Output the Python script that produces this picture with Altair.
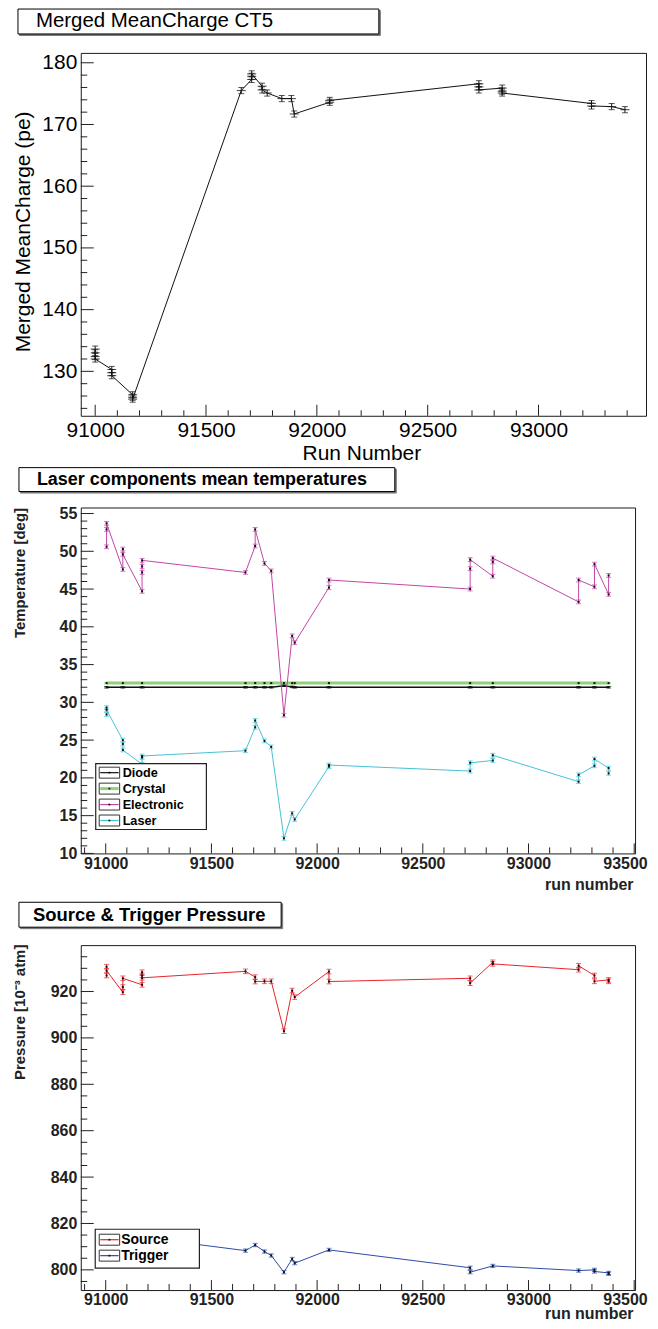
import altair as alt
import pandas as pd

FONT = "Liberation Sans"

# ---------------- data ----------------
# Panel 1 : Merged MeanCharge CT5
charge_run = [91000, 91000, 91000, 91000, 91075, 91075, 91075, 91169, 91169, 91169,
              91659, 91706, 91706, 91706, 91753, 91753, 91776, 91842, 91885, 91898,
              92058, 92058, 92731, 92731, 92731, 92836, 92836, 92836, 93239, 93239, 93330, 93390]
charge_val = [133.6, 133.0, 132.4, 132.0, 130.3, 129.8, 129.3, 126.2, 125.8, 125.5,
              175.5, 177.3, 177.8, 178.2, 176.2, 175.6, 175.1, 174.2, 174.2, 171.7,
              173.6, 173.9, 176.6, 176.1, 175.6, 175.9, 175.4, 175.1, 173.4, 173.0, 172.9, 172.4]
charge_err = [0.5, 0.5, 0.5, 0.5, 0.5, 0.5, 0.5, 0.5, 0.5, 0.5,
              0.5, 0.5, 0.5, 0.5, 0.5, 0.5, 0.5, 0.5, 0.5, 0.5,
              0.5, 0.5, 0.5, 0.5, 0.5, 0.5, 0.5, 0.5, 0.5, 0.5, 0.5, 0.5]

# Panel 2 : Laser components mean temperatures
runs_all = [91004, 91081, 91172, 91661, 91707, 91751, 91783, 91843, 91882, 91894,
            92056, 92724, 92831, 93237, 93312, 93379]
diode_val = [32.0, 32.0, 32.0, 32.0, 32.0, 32.0, 32.0, 32.2, 32.05, 32.0,
             32.0, 32.0, 32.0, 32.0, 32.0, 32.0]
crystal_val = [32.55, 32.55, 32.55, 32.55, 32.55, 32.55, 32.55, 32.55, 32.55, 32.55,
               32.55, 32.55, 32.55, 32.55, 32.55, 32.55]
elec_run = [91004, 91004, 91004, 91081, 91081, 91081, 91172, 91172, 91172, 91172,
            91661, 91707, 91707, 91751, 91783, 91843, 91882, 91894, 92056, 92056,
            92724, 92724, 92724, 92831, 92831, 92831, 93237, 93237, 93312, 93312, 93379, 93379]
elec_val = [50.6, 52.9, 53.7, 47.6, 50.3, 49.6, 44.7, 47.2, 48.0, 48.8,
            47.2, 50.7, 52.9, 48.4, 47.4, 28.3, 38.8, 37.9, 45.2, 46.2,
            45.0, 47.7, 48.9, 46.7, 48.6, 49.1, 43.3, 46.2, 45.3, 48.3, 44.3, 46.8]
laser_run = [91004, 91004, 91004, 91081, 91081, 91081, 91172, 91172, 91172,
             91661, 91707, 91707, 91751, 91783, 91843, 91882, 91894, 92056, 92056,
             92724, 92724, 92831, 92831, 93237, 93237, 93312, 93312, 93379, 93379]
laser_val = [28.4, 29.3, 29.0, 25.0, 24.5, 23.7, 21.8, 22.7, 22.9,
             23.6, 26.7, 27.6, 24.9, 24.1, 12.0, 15.3, 14.5, 21.5, 21.7,
             20.9, 22.0, 22.3, 23.0, 19.5, 20.4, 21.6, 22.5, 21.3, 20.6]

# Panel 3 : Source & Trigger Pressure
source_run = [91004, 91004, 91004, 91081, 91081, 91081, 91172, 91172, 91172, 91172,
              91661, 91707, 91707, 91751, 91783, 91843, 91882, 91894, 92056, 92056,
              92724, 92724, 92831, 92831, 93237, 93237, 93312, 93312, 93379, 93379]
source_val = [930.7, 926.9, 929.0, 919.7, 921.9, 925.7, 922.9, 928.3, 926.9, 925.9,
              928.7, 926.2, 924.3, 924.4, 924.4, 902.9, 920.4, 917.6, 928.6, 924.3,
              925.7, 923.6, 932.6, 931.9, 929.4, 931.1, 926.9, 924.4, 925.0, 924.4]
trigger_run = [91004, 91081, 91081, 91172, 91661, 91707, 91751, 91783, 91843, 91882,
               91894, 92056, 92724, 92724, 92831, 93237, 93312, 93312, 93379, 93379]
trigger_val = [813.0, 809.3, 808.3, 814.0, 808.3, 810.7, 807.9, 806.2, 799.0, 804.7,
               802.9, 808.6, 800.9, 799.0, 801.7, 799.7, 800.0, 799.3, 798.7, 798.3]

# tick positions / labels
top_xlabels = [91000, 91500, 92000, 92500, 93000]
top_ylabels = [130, 140, 150, 160, 170, 180]
tp_xlabels = [91000, 91500, 92000, 92500, 93000, 93500]
temp_ylabels = [10, 15, 20, 25, 30, 35, 40, 45, 50, 55]
pres_ylabels = [800, 820, 840, 860, 880, 900, 920]

temp_names = ["Diode", "Crystal", "Electronic", "Laser"]
temp_colors = ["#111111", "#8fd27a", "#c046a8", "#45c3d6"]
pres_names = ["Source", "Trigger"]
pres_colors = ["#e8232b", "#2b4aa6"]

TICK = "#222222"


def one():
    return alt.Chart(alt.Data(values=[{}]))


def box(x1, x2, y1, y2, fill="white", stroke="black", sw=1.0):
    return one().mark_rect(fill=fill, stroke=stroke, strokeWidth=sw).encode(
        x=alt.value(x1), x2=alt.value(x2), y=alt.value(y1), y2=alt.value(y2))


def label(txt, x, y, size, weight="normal"):
    return one().mark_text(text=txt, align="left", baseline="middle", font=FONT,
                           fontSize=size, fontWeight=weight, color="black").encode(
        x=alt.value(x), y=alt.value(y))


def hline(x1, x2, y, color, w):
    return one().mark_rule(color=color, strokeWidth=w).encode(
        x=alt.value(x1), x2=alt.value(x2), y=alt.value(y))


def dot(x, y, color="black", size=5):
    return one().mark_square(color=color, size=size, opacity=1).encode(
        x=alt.value(x), y=alt.value(y))


def title_box(x1, x2, y1, y2, txt, tx, size, weight):
    return [box(x1 + 1.5, x2 + 1.5, y1 + 1.5, y2 + 1.5, fill="#777777", stroke="#777777"),
            box(x1, x2, y1, y2),
            label(txt, tx, (y1 + y2) / 2, size, weight)]


def range_ticks(a, b, step, skip):
    out = []
    v = a
    while v <= b + 1e-9:
        if all(abs(v - s) > 1e-6 for s in skip):
            out.append(round(v, 6))
        v += step
    return out


class Panel:
    def __init__(self, xsc, ysc, xax, yax, h):
        self.xsc, self.ysc, self.xax, self.yax, self.h = xsc, ysc, xax, yax, h

    def X(self, f):
        return alt.X(f, scale=self.xsc, axis=self.xax)

    def Y(self, f):
        return alt.Y(f, scale=self.ysc, axis=self.yax)

    def yticks(self, vals, L):
        return alt.Chart(pd.DataFrame({"t": vals})).mark_rule(
            color=TICK, strokeWidth=1).encode(
            y=self.Y("t:Q"), x=alt.value(0), x2=alt.value(L))

    def xticks(self, vals, L):
        return alt.Chart(pd.DataFrame({"t": vals})).mark_rule(
            color=TICK, strokeWidth=1).encode(
            x=self.X("t:Q"), y=alt.value(self.h), y2=alt.value(self.h - L))

    def series(self, run, val, err, color, lw, cap, marker):
        df = pd.DataFrame({"run": run, "val": val,
                           "lo": [v - e for v, e in zip(val, err)],
                           "hi": [v + e for v, e in zip(val, err)],
                           "i": list(range(len(run)))})
        base = alt.Chart(df)
        layers = [
            base.mark_line(color=color, strokeWidth=lw).encode(
                x=self.X("run:Q"), y=self.Y("val:Q"), order="i:Q"),
            base.mark_rule(color=color, strokeWidth=1).encode(
                x=self.X("run:Q"), y=self.Y("lo:Q"), y2="hi:Q"),
            base.transform_fold(["lo", "hi"]).mark_tick(
                orient="horizontal", size=cap, thickness=1, color=color).encode(
                x=self.X("run:Q"), y=self.Y("value:Q")),
        ]
        if marker == "plus":
            layers.append(base.mark_tick(orient="horizontal", size=9, thickness=1.2,
                                         color=color).encode(
                x=self.X("run:Q"), y=self.Y("val:Q")))
        else:
            layers.append(base.mark_square(color="#111111", size=4, opacity=1).encode(
                x=self.X("run:Q"), y=self.Y("val:Q")))
        return layers


# ---------------- panel 1 ----------------
W1, H1 = 567, 364
xs1 = alt.Scale(domain=[90935, 93485], nice=False, zero=False)
ys1 = alt.Scale(domain=[122.8, 181.6], nice=False, zero=False)
xa1 = alt.Axis(values=top_xlabels, format="d", ticks=False, domain=False, grid=False,
               labelFont=FONT, labelFontSize=21, labelColor="black", labelPadding=4,
               labelFlush=False, labelOverlap=False,
               title="Run Number", titleFont=FONT, titleFontSize=21, titleFontWeight="normal",
               titleColor="black", titleX=W1 / 2 - 2, titleY=27, titleAlign="center",
               titleBaseline="top", titleAnchor="middle")
ya1 = alt.Axis(values=top_ylabels, format="d", ticks=False, domain=False, grid=False,
               labelFont=FONT, labelFontSize=21, labelColor="black", labelPadding=4,
               labelOverlap=False,
               title="Merged MeanCharge (pe)", titleFont=FONT, titleFontSize=21,
               titleFontWeight="normal", titleColor="black", titleAngle=270,
               titleX=-68, titleY=179, titleAlign="center", titleBaseline="top")
P1 = Panel(xs1, ys1, xa1, ya1, H1)
p1_layers = [P1.yticks(top_ylabels, 13),
             P1.yticks(range_ticks(124, 180, 2, top_ylabels), 6.5),
             P1.xticks(top_xlabels, 11),
             P1.xticks(range_ticks(91000, 93400, 100, top_xlabels), 5.5)]
p1_layers += P1.series(charge_run, charge_val, charge_err, "#111111", 1, 6, "plus")
p1_layers += title_box(-63, 299, -44, -19, "Merged MeanCharge CT5", -45, 20.5, "normal")
panel1 = alt.layer(*p1_layers).properties(width=W1, height=H1)

# ---------------- panel 2 ----------------
W2, H2 = 556, 347
xs2 = alt.Scale(domain=[90882, 93504], nice=False, zero=False)
ys2 = alt.Scale(domain=[10, 55.8], nice=False, zero=False)


def x_axis_tp(W, ty, pad):
    return alt.Axis(values=tp_xlabels, format="d", ticks=False, domain=False, grid=False,
                    labelFont=FONT, labelFontSize=16, labelFontWeight="bold",
                    labelColor="#222222", labelPadding=pad, labelFlush=1,
                    labelFlushOffset=13, labelOverlap=False,
                    title="run number", titleFont=FONT, titleFontSize=16,
                    titleFontWeight="bold", titleColor="#222222", titleX=W - 2,
                    titleY=ty, titleAlign="right", titleBaseline="alphabetic")


ya2 = alt.Axis(values=temp_ylabels, format="d", ticks=False, domain=False, grid=False,
               labelFont=FONT, labelFontSize=16, labelFontWeight="bold",
               labelColor="#222222", labelPadding=4, labelOverlap=False,
               title="Temperature [deg]", titleFont=FONT, titleFontSize=15,
               titleFontWeight="bold", titleColor="#222222", titleAngle=270,
               titleX=-68, titleY=0, titleAlign="right", titleBaseline="top")
P2 = Panel(xs2, ys2, x_axis_tp(W2, 36, 2), ya2, H2)
p2_layers = [P2.yticks(temp_ylabels, 13),
             P2.yticks(range_ticks(11, 55, 1, temp_ylabels), 6.5),
             P2.xticks(tp_xlabels, 10),
             P2.xticks(range_ticks(90900, 93500, 100, tp_xlabels), 6)]
p2_layers += P2.series(runs_all, crystal_val, [0.1 for _ in runs_all],
                       temp_colors[1], 3, 5, "dot")
p2_layers += P2.series(runs_all, diode_val, [0.1 for _ in runs_all],
                       temp_colors[0], 1.5, 5, "dot")
p2_layers += P2.series(elec_run, elec_val, [0.25 for _ in elec_run],
                       temp_colors[2], 1, 5, "dot")
p2_layers += P2.series(laser_run, laser_val, [0.25 for _ in laser_run],
                       temp_colors[3], 1, 5, "dot")
p2_layers += title_box(-62, 315, -40, -16, "Laser components mean temperatures", -44,
                       18, "bold")
leg_y = [266, 282, 298, 314]
leg_w = [1.2, 3, 1.2, 1.2]
p2_layers.append(box(15, 126, 257, 323, stroke="#222222", sw=1.2))
for name, col, yy, lw in zip(temp_names, temp_colors, leg_y, leg_w):
    p2_layers.append(box(18.5, 39, yy - 5.5, yy + 5.5, fill="white", stroke="#333333", sw=1))
    p2_layers.append(hline(19.5, 38, yy, col, lw))
    p2_layers.append(dot(28.7, yy, "#111111", 3))
    p2_layers.append(label(name, 42, yy, 12.7, "bold"))
panel2 = alt.layer(*p2_layers).properties(width=W2, height=H2)

# ---------------- panel 3 ----------------
W3, H3 = 556, 346
xs3 = alt.Scale(domain=[90882, 93504], nice=False, zero=False)
ys3 = alt.Scale(domain=[791.3, 940], nice=False, zero=False)
ya3 = alt.Axis(values=pres_ylabels, format="d", ticks=False, domain=False, grid=False,
               labelFont=FONT, labelFontSize=16, labelFontWeight="bold",
               labelColor="#222222", labelPadding=4, labelOverlap=False,
               title="Pressure [10⁻³ atm]", titleFont=FONT, titleFontSize=15,
               titleFontWeight="bold", titleColor="#222222", titleAngle=270,
               titleX=-68, titleY=-1, titleAlign="right", titleBaseline="top")
P3 = Panel(xs3, ys3, x_axis_tp(W3, 28.5, 1), ya3, H3)
p3_layers = [P3.yticks(pres_ylabels, 13),
             P3.yticks(range_ticks(795, 935, 5, pres_ylabels), 6.5),
             P3.xticks(tp_xlabels, 10),
             P3.xticks(range_ticks(90900, 93500, 100, tp_xlabels), 6)]
p3_layers += P3.series(source_run, source_val, [1.0 for _ in source_run],
                       pres_colors[0], 1, 5, "dot")
p3_layers += P3.series(trigger_run, trigger_val, [0.7 for _ in trigger_run],
                       pres_colors[1], 1, 5, "dot")
p3_layers += title_box(-62, 201, -43, -18, "Source & Trigger Pressure", -48, 18.5, "bold")
leg3_y = [295.5, 311.5]
p3_layers.append(box(14.5, 119, 285, 324, stroke="#222222", sw=1.2))
for name, col, yy in zip(pres_names, pres_colors, leg3_y):
    p3_layers.append(box(18.5, 39, yy - 5.5, yy + 5.5, fill="white", stroke="#333333", sw=1))
    p3_layers.append(hline(19.5, 38, yy, col, 1.2))
    p3_layers.append(dot(28.7, yy, "#111111", 3))
    p3_layers.append(label(name, 40.5, yy, 14, "bold"))
panel3 = alt.layer(*p3_layers).properties(width=W3, height=H3)

chart = alt.vconcat(panel1, panel2, panel3, spacing=92, bounds="flush").properties(
    padding={"left": 4, "top": -2, "right": 2, "bottom": -4},
    background="white",
).configure_view(stroke="#1a1a1a", strokeWidth=1)

chart.save("out.html", embed_options={"renderer": "svg", "actions": False})
